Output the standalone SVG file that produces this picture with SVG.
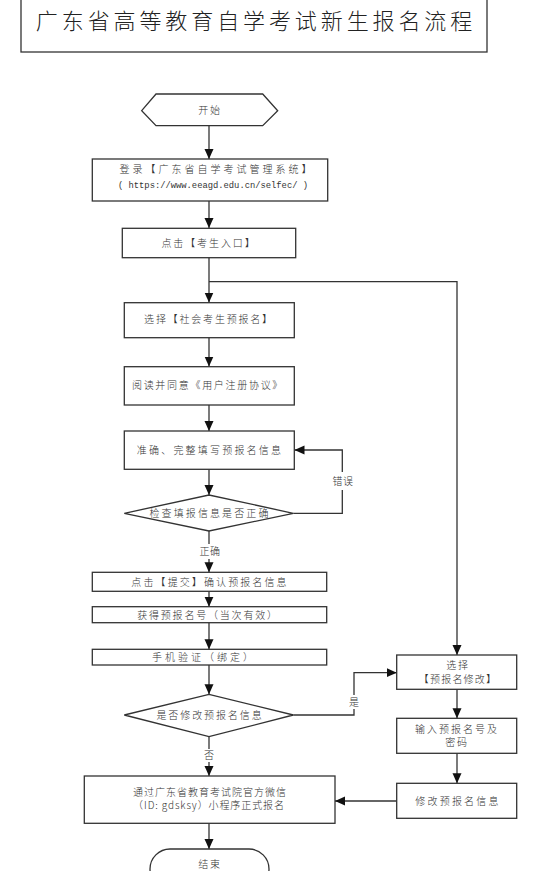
<svg xmlns="http://www.w3.org/2000/svg" width="550" height="871" viewBox="0 0 550 871">
<style>
.b{fill:#fff;stroke:#333;stroke-width:1.3}
.t{font-family:"Noto Sans CJK SC","Noto Sans",sans-serif;font-size:10px;fill:#333;letter-spacing:1.8px;text-anchor:middle;font-weight:300}
.m{font-family:"Liberation Mono",monospace;font-size:8.8px;fill:#333;text-anchor:middle}
.l{stroke:#333;stroke-width:1.3;fill:none}
.lb{fill:#fff}
</style>
<defs>
<marker id="a" viewBox="0 0 10 10" refX="10" refY="5" markerWidth="10" markerHeight="10" markerUnits="userSpaceOnUse" orient="auto">
<path d="M0,0.5 L10,5 L0,9.5 Z" fill="#111"/>
</marker>
</defs>
<rect width="550" height="871" fill="#fff"/>
<g id="title">
<rect class="b" x="21" y="-2" width="466" height="54"/>
<text x="256" y="29" style="font-family:'Noto Sans CJK SC',sans-serif;font-size:22px;fill:#222;letter-spacing:3.9px;text-anchor:middle;font-weight:300">广东省高等教育自学考试新生报名流程</text>
</g>
<g id="connectors">
<line class="l" x1="209" y1="126" x2="209" y2="159" marker-end="url(#a)"/>
<line class="l" x1="209" y1="201" x2="209" y2="228" marker-end="url(#a)"/>
<line class="l" x1="209" y1="258" x2="209" y2="302.5" marker-end="url(#a)"/>
<polyline class="l" points="209,281.7 457,281.7 457,655" marker-end="url(#a)"/>
<line class="l" x1="209" y1="338" x2="209" y2="366.5" marker-end="url(#a)"/>
<line class="l" x1="209" y1="405" x2="209" y2="431" marker-end="url(#a)"/>
<line class="l" x1="209" y1="469.5" x2="209" y2="495" marker-end="url(#a)"/>
<polyline class="l" points="293.3,513.3 342.3,513.3 342.3,450 294.5,450" marker-end="url(#a)"/>
<rect class="lb" x="332" y="472" width="21" height="18"/>
<text class="t" x="343" y="485" style="letter-spacing:0.5px">错误</text>
<line class="l" x1="209" y1="531" x2="209" y2="572.3" marker-end="url(#a)"/>
<rect class="lb" x="197" y="544" width="25" height="15"/>
<text class="t" x="210" y="555" style="letter-spacing:0.5px">正确</text>
<line class="l" x1="209" y1="591.5" x2="209" y2="606.7" marker-end="url(#a)"/>
<line class="l" x1="209" y1="623" x2="209" y2="649.3" marker-end="url(#a)"/>
<line class="l" x1="209" y1="665" x2="209" y2="694.3" marker-end="url(#a)"/>
<polyline class="l" points="293.3,715 354,715 354,672.7 396.7,672.7" marker-end="url(#a)"/>
<rect class="lb" x="348" y="695" width="12" height="14"/>
<text class="t" x="354" y="706" style="letter-spacing:0">是</text>
<line class="l" x1="209" y1="737" x2="209" y2="776" marker-end="url(#a)"/>
<rect class="lb" x="202" y="749" width="14" height="13"/>
<text class="t" x="209" y="759" style="letter-spacing:0">否</text>
<line class="l" x1="457" y1="689.3" x2="457" y2="718.3" marker-end="url(#a)"/>
<line class="l" x1="457" y1="753.3" x2="457" y2="783.3" marker-end="url(#a)"/>
<line class="l" x1="396.7" y1="801" x2="335" y2="801" marker-end="url(#a)"/>
<line class="l" x1="209" y1="823.3" x2="209" y2="849" marker-end="url(#a)"/>
</g>
<g id="start">
<polygon class="b" points="141.7,110.7 156,94 262.7,94 277.7,110.7 262.7,125.7 156,125.7"/>
<text class="t" x="210" y="114">开始</text>
</g>
<g id="login">
<rect class="b" x="92.3" y="159" width="235.4" height="42"/>
<text class="t" x="217" y="173" style="letter-spacing:3px">登录【广东省自学考试管理系统】</text>
<text class="m" x="213" y="188">( https://www.eeagd.edu.cn/selfec/ )</text>
</g>
<g id="entry">
<rect class="b" x="122.3" y="228.3" width="173.4" height="29.4"/>
<text class="t" x="209" y="247" style="letter-spacing:1.9px">点击【考生入口】</text>
</g>
<g id="choose">
<rect class="b" x="124.3" y="302.7" width="170" height="35"/>
<text class="t" x="209" y="323">选择【社会考生预报名】</text>
</g>
<g id="agree">
<rect class="b" x="124.3" y="366.7" width="170" height="38.3"/>
<text class="t" x="208" y="389" style="letter-spacing:1.7px">阅读并同意《用户注册协议》</text>
</g>
<g id="fill">
<rect class="b" x="124.3" y="431" width="170" height="38.3"/>
<text class="t" x="210" y="454" style="letter-spacing:2.2px">准确、完整填写预报名信息</text>
</g>
<g id="check">
<polygon class="b" points="124.3,513.3 209,495 293.3,513.3 209,531"/>
<text class="t" x="210" y="517" style="letter-spacing:2.1px">检查填报信息是否正确</text>
</g>
<g id="submit">
<rect class="b" x="92.3" y="572.3" width="234.4" height="19"/>
<text class="t" x="210" y="585.5" style="letter-spacing:2.1px">点击【提交】确认预报名信息</text>
</g>
<g id="number">
<rect class="b" x="92.3" y="606.7" width="234.4" height="16"/>
<text class="t" x="208" y="618.5" style="letter-spacing:1.8px">获得预报名号（当次有效）</text>
</g>
<g id="phone">
<rect class="b" x="92.3" y="649.3" width="234.4" height="15.7"/>
<text class="t" x="204" y="661" style="letter-spacing:3px">手机验证（绑定）</text>
</g>
<g id="modq">
<polygon class="b" points="124.3,715 209,694.3 293.3,715 209,736.7"/>
<text class="t" x="210" y="719" style="letter-spacing:1.9px">是否修改预报名信息</text>
</g>
<g id="selmod">
<rect class="b" x="396.7" y="655" width="120" height="34.3"/>
<text class="t" x="458" y="668.5">选择</text>
<text class="t" x="458" y="682.5" style="letter-spacing:1.2px">【预报名修改】</text>
</g>
<g id="input">
<rect class="b" x="396.7" y="718.3" width="120" height="35"/>
<text class="t" x="457" y="732.5" style="letter-spacing:2px">输入预报名号及</text>
<text class="t" x="457" y="746">密码</text>
</g>
<g id="modify">
<rect class="b" x="396.7" y="783.3" width="120" height="35"/>
<text class="t" x="458" y="804.5" style="letter-spacing:2.2px">修改预报名信息</text>
</g>
<g id="final">
<rect class="b" x="84.3" y="776" width="250.7" height="47.3"/>
<text class="t" x="210" y="795.5" style="letter-spacing:1px">通过广东省教育考试院官方微信</text>
<text class="t" x="209" y="809" style="letter-spacing:0.9px">（ID: gdsksy）小程序正式报名</text>
</g>
<g id="end">
<rect class="b" x="150" y="849" width="119" height="40" rx="20" ry="20"/>
<text class="t" x="210" y="867.5">结束</text>
</g>
</svg>
